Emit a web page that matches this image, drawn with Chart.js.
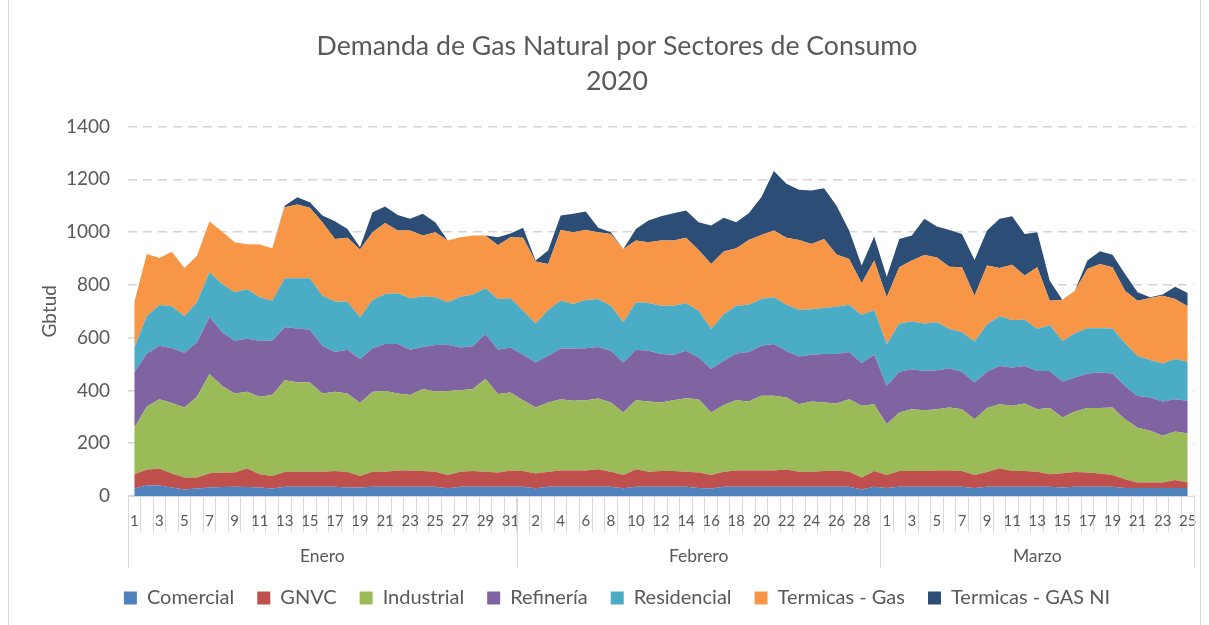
<!DOCTYPE html>
<html>
<head>
<meta charset="utf-8">
<script src="https://cdn.jsdelivr.net/npm/chart.js@4.4.1/dist/chart.umd.min.js"></script>
<style>
  body { margin: 0; background: #fff; }
  #wrap { width: 1209px; height: 625px; }
</style>
</head>
<body>
<div id="wrap"><canvas id="chart" width="1209" height="625"></canvas></div>
<script>
const months = ["Enero", "Febrero", "Marzo"];
const monthDays = [31, 29, 25];

const comercial = [28,40,40,32,25,28,32,34,35,34,32,28,35,35,35,35,35,32,32,35,35,35,35,35,35,29,35,35,35,35,35,
  35,29,35,35,35,35,35,35,29,35,35,35,35,35,30,28,35,35,35,35,35,35,35,35,35,35,35,25,35,
  30,35,35,35,35,35,35,30,35,35,35,35,35,35,32,35,35,35,35,30,30,30,30,30,30];
const gnvc = [54,59,64,53,45,42,54,55,54,70,50,48,56,57,57,57,60,59,44,57,57,62,62,60,57,51,57,60,57,54,62,
  60,56,57,62,62,62,66,57,51,66,57,60,60,57,59,52,57,62,62,62,62,65,57,57,60,62,57,45,60,
  50,60,60,60,62,62,60,50,56,70,60,60,57,47,54,56,54,50,45,33,21,21,21,31,21];
const industrial = [177,239,263,267,265,306,376,328,299,291,294,307,348,339,338,296,300,297,276,303,306,291,286,310,304,318,309,310,351,297,295,
  268,250,262,270,264,266,268,262,236,262,266,259,268,278,278,236,253,266,261,283,283,273,256,266,259,253,275,272,253,
  192,221,234,230,232,238,234,211,242,243,247,255,237,251,211,229,244,248,255,228,208,196,177,183,186];
const refineria = [209,202,202,208,208,206,217,203,200,201,212,205,200,204,200,181,151,166,167,165,178,188,171,160,176,175,162,162,171,168,171,
  172,171,177,192,198,197,196,196,190,191,192,184,172,180,158,165,167,177,188,189,196,175,181,177,184,188,179,162,187,
  145,155,151,149,147,148,142,139,138,145,145,143,145,141,137,129,131,135,129,126,120,126,130,123,124];
const residencial = [95,141,155,159,138,152,169,183,184,187,165,152,186,190,195,190,191,182,158,183,189,192,195,191,181,161,192,196,173,192,186,
  167,148,174,181,168,183,181,171,152,180,181,183,186,180,177,152,177,181,179,177,177,177,177,173,174,179,179,182,170,
  158,183,181,180,182,150,149,155,180,188,180,175,159,174,153,168,172,168,171,162,151,142,144,152,148];
const termicasGas = [171,236,178,206,183,176,192,199,189,171,200,199,269,279,267,278,237,242,257,256,269,238,257,231,246,234,225,224,200,204,231,
  276,234,174,268,272,265,253,272,278,234,230,247,247,248,230,246,237,218,245,243,253,253,264,247,262,198,173,120,187,
  178,213,231,259,246,236,247,174,222,183,209,167,234,92,157,161,224,243,232,199,210,235,257,227,210];
const termicasGasNI = [0,0,0,0,0,0,0,0,0,0,0,0,6,28,21,26,67,34,8,76,63,59,44,82,38,0,0,0,0,30,15,
  38,4,51,55,70,70,17,6,0,44,83,92,103,104,105,146,128,98,101,143,225,205,190,202,192,185,108,67,91,
  78,107,95,137,117,139,126,135,133,186,184,158,132,76,0,0,32,48,47,63,32,3,4,47,50];

const seriesNames = ["Comercial", "GNVC", "Industrial", "Refinería", "Residencial", "Termicas - Gas", "Termicas - GAS NI"];
const seriesColors = ["#4F81BD", "#C0504D", "#9BBB59", "#8064A2", "#4BACC6", "#F79646", "#2C4D75"];
const series = [comercial, gnvc, industrial, refineria, residencial, termicasGas, termicasGasNI];

const txt = "#595959";
const fnt = "Lato";

// day labels per month
days = [];
months.forEach((m, k) => {
  for (let d = 1; d <= monthDays[k]; d++) {
    days.push(String(d));
  }
});

const monthAxis = {
  id: "monthAxis",
  afterDraw: (chart) => {
    const { ctx } = chart;
    const x = chart.scales.x;
    const half = (x.getPixelForValue(1) - x.getPixelForValue(0)) / 2;
    const top = x.top + 2;
    ctx.save();
    ctx.strokeStyle = "#d9d9d9";
    ctx.lineWidth = 1;
    let start = 0;
    const edges = [];
    months.forEach((m, k) => {
      const end = start + monthDays[k] - 1;
      const x0 = x.getPixelForValue(start) - half;
      const x1 = x.getPixelForValue(end) + half;
      edges.push(x0, x1);
      ctx.fillStyle = txt;
      ctx.font = "17.5px " + fnt;
      ctx.textAlign = "center";
      ctx.textBaseline = "middle";
      ctx.fillText(m, (x0 + x1) / 2, 556);
      start = end + 1;
    });
    edges.forEach((e) => {
      ctx.beginPath();
      ctx.moveTo(Math.round(e) + 0.5, top);
      ctx.lineTo(Math.round(e) + 0.5, 568);
      ctx.stroke();
    });
    // frame of the chart object
    ctx.beginPath();
    ctx.moveTo(8.5, 0);
    ctx.lineTo(8.5, 625);
    ctx.moveTo(1200.5, 0);
    ctx.lineTo(1200.5, 625);
    ctx.stroke();
    ctx.restore();
  },
};

function onload() {
  Chart.defaults.font.family = fnt;
  Chart.defaults.color = txt;
  new Chart(document.getElementById("chart"), {
    type: "line",
    data: {
      labels: days,
      datasets: series.map((s, i) => ({
        label: seriesNames[i],
        data: s,
        backgroundColor: seriesColors[i],
        borderColor: seriesColors[i],
        borderWidth: 0,
        pointRadius: 0,
        pointHoverRadius: 0,
        tension: 0,
        fill: i === 0 ? "origin" : "-1",
      })),
    },
    options: {
      responsive: false,
      animation: false,
      layout: { padding: { left: 40, right: 15, top: 0, bottom: 7 } },
      plugins: {
        title: {
          display: true,
          text: ["Demanda de Gas Natural por Sectores de Consumo", "2020"],
          color: txt,
          font: { size: 26.7, weight: "normal", lineHeight: 1.32 },
          padding: { top: 29, bottom: 27 },
        },
        legend: {
          position: "bottom",
          labels: {
            boxWidth: 13,
            boxHeight: 13,
            padding: 23,
            color: txt,
            font: { size: 20 },
          },
        },
        tooltip: { enabled: false },
      },
      scales: {
        x: {
          offset: true,
          afterFit: (s) => { s.height = 69; },
          grid: {
            offset: true,
            drawOnChartArea: false,
            tickLength: 36,
            color: "#d9d9d9",
          },
          border: { display: true, color: "#d9d9d9" },
          ticks: {
            autoSkip: false,
            maxRotation: 0,
            minRotation: 0,
            padding: -20,
            color: txt,
            font: { size: 15 },
            callback: (v, i) => (i % 2 === 0 ? days[i] : ""),
          },
        },
        y: {
          stacked: true,
          min: 0,
          max: 1400,
          afterFit: (s) => { s.width = 88; },
          ticks: {
            stepSize: 200,
            padding: 18,
            color: txt,
            font: { size: 19 },
            callback: (v) => String(v),
          },
          grid: { color: "#d4d4d4", lineWidth: 1.5, drawTicks: false },
          border: { display: false, dash: [9, 6] },
          title: {
            display: true,
            text: "Gbtud",
            color: txt,
            font: { size: 19, lineHeight: 1 },
            padding: { top: 0, bottom: 0 },
          },
        },
      },
    },
    plugins: [monthAxis],
  });
}
window.addEventListener("load", onload);
</script>
</body>
</html>
